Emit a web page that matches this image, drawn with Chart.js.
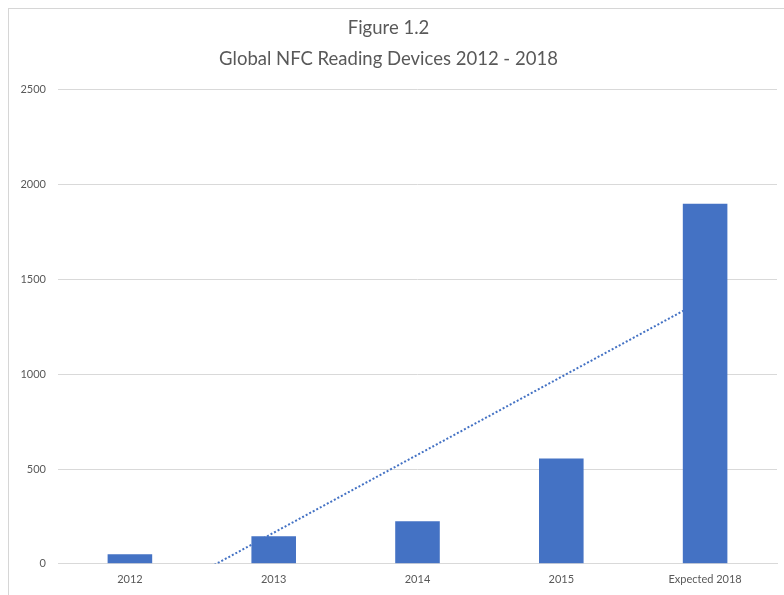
<!DOCTYPE html>
<html>
<head>
<meta charset="utf-8">
<script src="https://cdn.jsdelivr.net/npm/chart.js@4"></script>
<style>
  html, body { margin: 0; padding: 0; background: #fff; }
  #wrap { position: relative; width: 784px; height: 595px; overflow: hidden; }
  #frame { position: absolute; left: 8px; top: 8px; width: 800px; height: 600px; border: 1px solid #d6d6d6; box-sizing: border-box; }
  canvas { position: absolute; left: 0; top: 0; }
</style>
</head>
<body>
<div id="wrap">
  <div id="frame"></div>
  <canvas id="c" width="784" height="595"></canvas>
</div>
<script>
const titleLines = ['Figure 1.2', 'Global NFC Reading Devices 2012 - 2018'];
const categories = ['2012', '2013', '2014', '2015', 'Expected 2018'];
const devices = [50, 145, 225, 555, 1900];
const trendValues = [-247, 164, 575, 986, 1397];
const yTicks = [0, 500, 1000, 1500, 2000, 2500];

const blue = '#4472C4';
const tickFont = { family: 'Lato, "Open Sans", sans-serif', size: 11 };

new Chart(document.getElementById('c'), {
  data: {
    labels: categories,
    datasets: [
      {
        type: 'bar',
        label: 'Devices',
        data: devices,
        backgroundColor: blue,
        borderWidth: 0,
        categoryPercentage: 1,
        barPercentage: 0.31,
        order: 1
      },
      {
        type: 'line',
        label: 'Linear trend',
        data: trendValues,
        borderColor: blue,
        borderWidth: 2,
        borderDash: [2, 2],
        pointRadius: 0,
        fill: false,
        tension: 0,
        order: 2
      }
    ]
  },
  options: {
    responsive: false,
    animation: false,
    layout: { padding: { left: 0, right: 7, top: 0, bottom: 0 } },
    plugins: {
      legend: { display: false },
      tooltip: { enabled: false },
      title: {
        display: true,
        text: titleLines,
        color: '#595959',
        font: { family: 'Lato, "Open Sans", sans-serif', size: 18.5, weight: 'normal', lineHeight: 1.7 },
        padding: { top: 12, bottom: 15 }
      }
    },
    scales: {
      x: {
        grid: { display: false, drawTicks: false },
        border: { display: true, color: '#d9d9d9' },
        ticks: { color: '#595959', font: tickFont, padding: 9, maxRotation: 0 }
      },
      y: {
        min: 0,
        max: 2500,
        afterBuildTicks: (scale) => { scale.ticks = yTicks.map(v => ({ value: v })); },
        afterFit: (scale) => { scale.width = 58; },
        grid: { color: '#d9d9d9', drawTicks: false },
        border: { display: false },
        ticks: { color: '#595959', font: tickFont, padding: 12, callback: (v) => String(v) }
      }
    }
  }
});
</script>
</body>
</html>
